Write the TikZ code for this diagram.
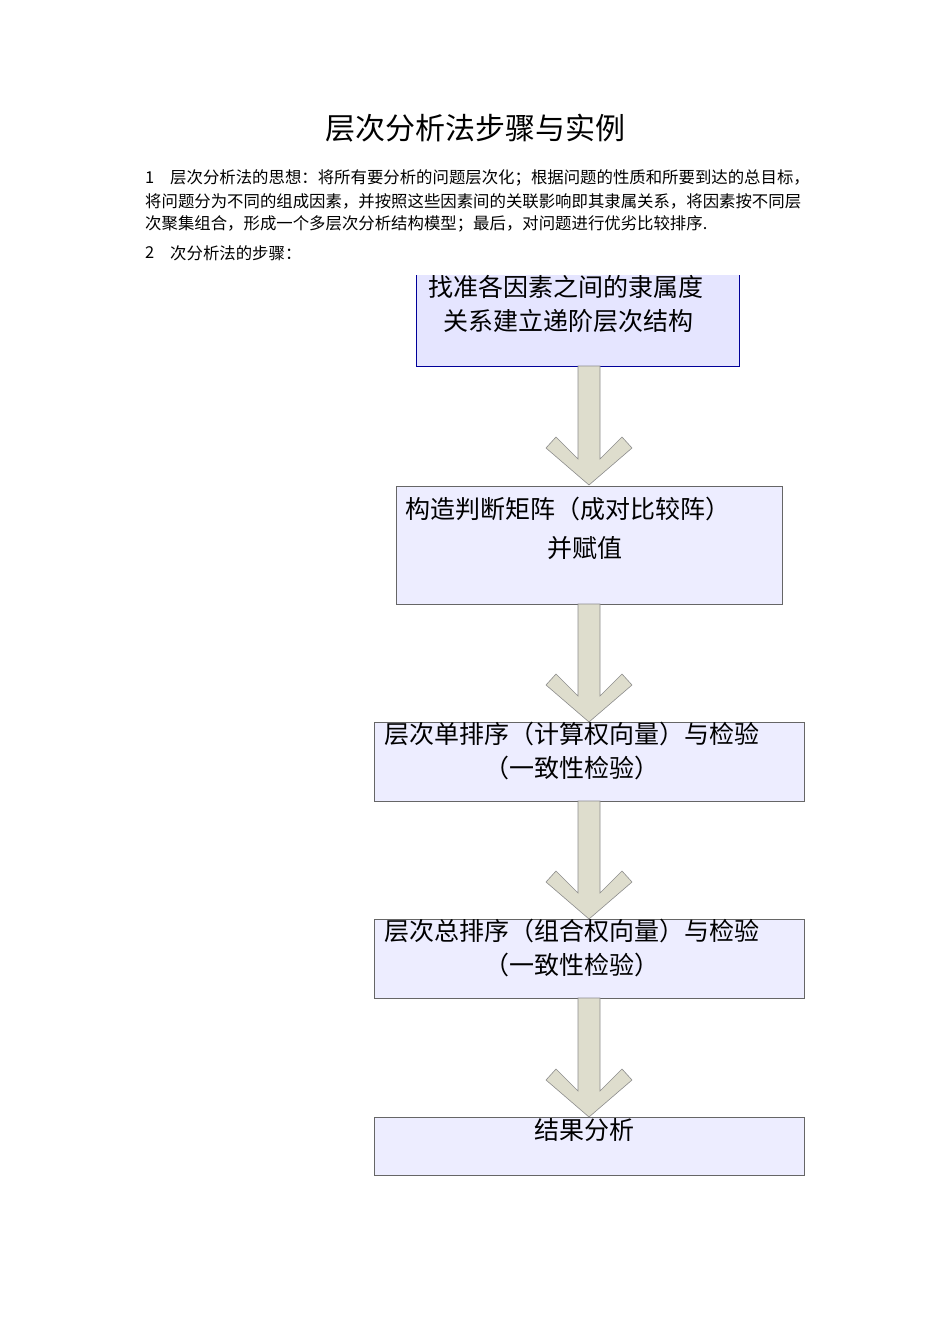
\documentclass[tikz,border=0pt]{standalone}
\usepackage{fontspec}
\setmainfont{Noto Sans CJK SC}
\begin{document}
\begin{tikzpicture}[x=1pt,y=-1pt,
  box/.style={draw=black!60,fill=blue!7,line width=0.8pt},
  bt/.style={font=\fontsize{25}{34}\selectfont,anchor=north,align=center,inner sep=0pt},
  para/.style={font=\fontsize{16.4}{18}\selectfont,anchor=west,inner sep=0pt},
  arr/.style={fill=olive!25!gray!30,draw=black!45,line width=0.6pt}]
\useasboundingbox (0,0) rectangle (950,1344);
\node[font=\fontsize{30}{34}\selectfont] (title) at (475,128) {层次分析法步骤与实例};
\node[para] (n1) at (145,178) {1};
\node[para] (p1) at (170,178) {层次分析法的思想：将所有要分析的问题层次化；根据问题的性质和所要到达的总目标，};
\node[para] (p2) at (145,201) {将问题分为不同的组成因素，并按照这些因素间的关联影响即其隶属关系，将因素按不同层};
\node[para] (p3) at (145,224) {次聚集组合，形成一个多层次分析结构模型；最后，对问题进行优劣比较排序.};
\node[para] (n2) at (145,253) {2};
\node[para] (p4) at (170,253) {次分析法的步骤：};
% box1
\fill[blue!10] (416,275) rectangle (739,366);
\draw[blue!60!black,line width=0.8pt] (416,275) -- (416,366) -- (739,366) -- (739,275);
\node[bt] (t1) at (566,275) {找准各因素之间的隶属度\\\ 关系建立递阶层次结构};
\draw[box] (396,486) rectangle (782,604);
\node[bt] (t2a) at (568,497) {构造判断矩阵（成对比较阵）};
\node[bt] (t2b) at (585,536) {并赋值};
\draw[box] (374,722) rectangle (804,801);
\node[bt] (t3) at (572,722) {层次单排序（计算权向量）与检验\\（一致性检验）};
\draw[box] (374,919) rectangle (804,998);
\node[bt] (t4) at (572,919) {层次总排序（组合权向量）与检验\\（一致性检验）};
\draw[box] (374,1117) rectangle (804,1175);
\node[bt] (t5) at (584,1118) {结果分析};
\foreach \a/\b in {366/485,604/722,801/919,998/1117}{
  \draw[arr] (578,\a) -- (578,\b-26) -- (556,\b-48) -- (546,\b-37) -- (589,\b) -- (632,\b-37) -- (622,\b-48) -- (600,\b-26) -- (600,\a) -- cycle;
}
\end{tikzpicture}
\end{document}
